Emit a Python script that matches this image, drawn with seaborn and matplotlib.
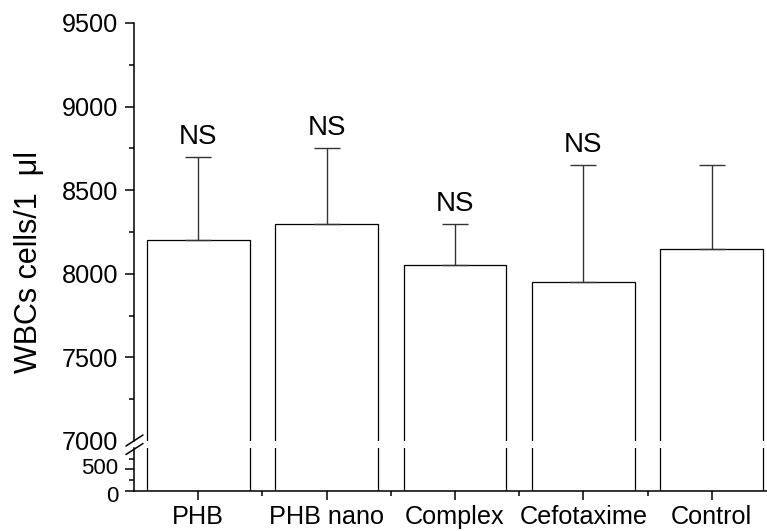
import matplotlib
matplotlib.use("Agg")
import matplotlib.pyplot as plt
import matplotlib.transforms as mtransforms
from matplotlib.lines import Line2D
from matplotlib.ticker import MultipleLocator, FixedLocator
import numpy as np
import pandas as pd
import seaborn as sns

categories = ["PHB", "PHB nano", "Complex", "Cefotaxime", "Control"]
means = [8200, 8300, 8050, 7950, 8150]
errors = [500, 450, 250, 700, 500]
sig_labels = ["NS", "NS", "NS", "NS", ""]
ylabel = "WBCs cells/1  \u03bcl"

df = pd.DataFrame({"group": categories, "value": means})

sns.set_style("ticks")
plt.rcParams["font.family"] = ["Liberation Sans", "DejaVu Sans"]
plt.rcParams["axes.linewidth"] = 1.1
plt.rcParams["text.color"] = "black"
plt.rcParams["xtick.color"] = "black"
plt.rcParams["ytick.color"] = "black"
plt.rcParams["xtick.labelcolor"] = "black"
plt.rcParams["ytick.labelcolor"] = "black"
plt.rcParams["axes.edgecolor"] = "black"

W, H = 767, 531
fig = plt.figure(figsize=(W / 100, H / 100), dpi=100)

def frac(left, top, right, bottom):
    return [left / W, 1 - bottom / H, (right - left) / W, (bottom - top) / H]

ax_top = fig.add_axes(frac(134, 23, 776, 441))
ax_bot = fig.add_axes(frac(134, 448, 776, 490.7))

for ax in (ax_top, ax_bot):
    sns.barplot(data=df, x="group", y="value", ax=ax, color="white",
                saturation=1, edgecolor="black", linewidth=0.9, width=0.8)
    ax.set_xlim(-0.5, 4.5)
    ax.set_xlabel("")
    ax.set_ylabel("")
    for s in ("top", "right"):
        ax.spines[s].set_visible(False)
    ax.tick_params(axis="both", which="major", direction="out", length=6.5,
                   width=1.1, labelsize=18.2, color="black",
                   labelcolor="black", pad=5)
    ax.tick_params(axis="both", which="minor", direction="out", length=3.8,
                   width=1.1, color="black")

# upper axes
ax_top.set_ylim(7000, 9500)
ax_top.spines["bottom"].set_visible(False)
ax_top.tick_params(axis="x", which="both", bottom=False, labelbottom=False)
ax_top.yaxis.set_minor_locator(MultipleLocator(250))
ax_top.set_yticks([7000, 7500, 8000, 8500, 9000, 9500])
ax_top.set_yticklabels(["7000", "7500", "8000", "8500", "9000", "9500"])
ax_top.yaxis.get_major_ticks()[0].tick1line.set_visible(False)

ax_top.errorbar(x=np.arange(len(categories)), y=means,
                yerr=[np.zeros(len(errors)), errors], fmt="none",
                ecolor="#333333", elinewidth=1.0, capsize=9.7, capthick=1.0)
for i, lab in enumerate(sig_labels):
    if lab:
        ax_top.annotate(lab, xy=(i, means[i] + errors[i]), xytext=(0, 5),
                        textcoords="offset points", ha="center", va="bottom",
                        fontsize=20, color="black")

# lower axes
ax_bot.set_ylim(0, 1000)
ax_bot.set_yticks([0, 500])
ax_bot.set_yticklabels(["0", "500"])
ax_bot.yaxis.set_minor_locator(FixedLocator([250, 750]))
ax_bot.xaxis.set_minor_locator(FixedLocator([0.5, 1.5, 2.5, 3.5]))
ax_bot.set_xticks(range(len(categories)))
ax_bot.set_xticklabels(categories)
ax_bot.tick_params(axis="x", which="major", pad=4)
ax_bot.tick_params(axis="y", which="major", labelsize=16)

# nudge the two tightly spaced lower labels apart slightly
ylabs = ax_bot.get_yticklabels()
for lab, dy in zip(ylabs, (-2.5, 2.5)):
    lab.set_transform(lab.get_transform() +
                      mtransforms.ScaledTranslation(0, dy / 72, fig.dpi_scale_trans))

# break marks
for y0 in (446, 454.5):
    fig.add_artist(Line2D([126 / W, 143 / W], [1 - y0 / H, 1 - (y0 - 11) / H],
                          color="black", lw=1.1, transform=fig.transFigure))

fig.text(29 / W, 1 - 262 / H, ylabel, rotation=90, ha="center", va="center",
         fontsize=22, color="black")

fig.savefig("out.png", dpi=100)
